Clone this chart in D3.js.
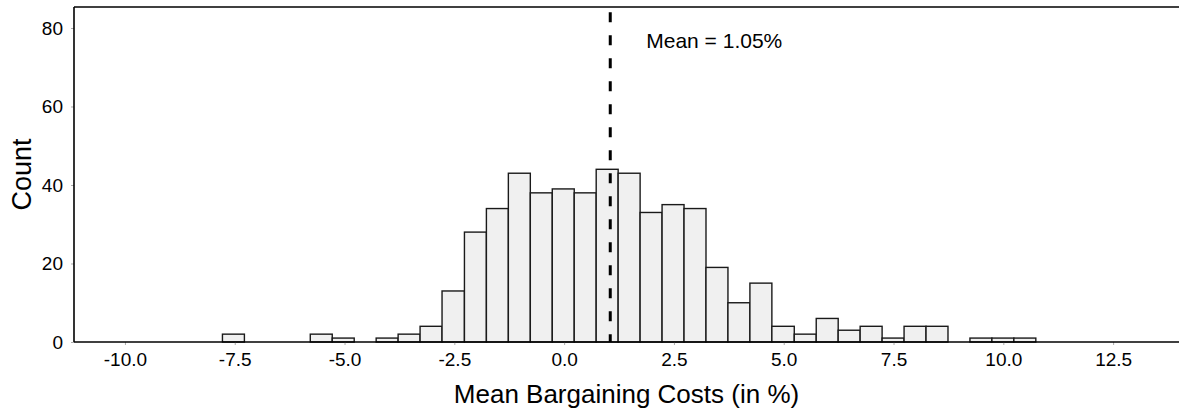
<!DOCTYPE html>
<html>
<head>
<meta charset="utf-8">
<script src="https://cdn.jsdelivr.net/npm/d3@7"></script>
<style>
  html, body { margin: 0; padding: 0; background: #fff; }
  svg { display: block; }
  text { font-family: "Liberation Sans", Arial, sans-serif; fill: #000; }
</style>
</head>
<body>
<svg id="chart" width="1179" height="413"></svg>
<script>
// Histogram bin edges (percent) and counts per bin
const binEdges = [-7.78, -7.28, -6.78, -6.28, -5.78, -5.28, -4.78, -4.28, -3.78, -3.28,
  -2.78, -2.27, -1.77, -1.27, -0.77, -0.27, 0.23, 0.73, 1.23, 1.73,
  2.23, 2.73, 3.23, 3.73, 4.23, 4.73, 5.24, 5.74, 6.24, 6.74,
  7.24, 7.74, 8.24, 8.74, 9.24, 9.74, 10.24, 10.74];
const binCounts = [2, 0, 0, 0, 2, 1, 0, 1, 2, 4,
  13, 28, 34, 43, 38, 39, 38, 44, 43, 33,
  35, 34, 19, 10, 15, 4, 2, 6, 3, 4,
  1, 4, 4, 0, 1, 1, 1];
const meanValue = 1.05;
const xTicks = [-10.0, -7.5, -5.0, -2.5, 0.0, 2.5, 5.0, 7.5, 10.0, 12.5];
const yTicks = [0, 20, 40, 60, 80];

const bins = binCounts.map((c, i) => ({ x0: binEdges[i], x1: binEdges[i + 1], count: c }));

const svg = d3.select("#chart");
const plotLeft = 74, plotRight = 1179, plotTop = 7, plotBottom = 342;

const x = d3.scaleLinear().domain([-11.16, 14.0]).range([plotLeft, plotRight]);
const y = d3.scaleLinear().domain([0, 85.35]).range([plotBottom, plotTop]);

// tick labels with a plain hyphen for negatives
const fmtX = d => d.toFixed(1);

// bars
svg.append("g")
  .selectAll("rect")
  .data(bins.filter(d => d.count > 0))
  .join("rect")
  .attr("x", d => x(d.x0))
  .attr("width", d => x(d.x1) - x(d.x0))
  .attr("y", d => y(d.count))
  .attr("height", d => y(0) - y(d.count))
  .attr("fill", "#f0f0f0")
  .attr("stroke", "#1a1a1a")
  .attr("stroke-width", 1.4);

// x axis
const xAxis = svg.append("g")
  .attr("transform", `translate(0,${plotBottom})`)
  .call(d3.axisBottom(x).tickValues(xTicks).tickFormat(fmtX).tickSize(3).tickPadding(8));
xAxis.select(".domain").remove();
xAxis.selectAll(".tick line").attr("stroke", "#aaa");
xAxis.selectAll(".tick text").attr("font-size", 19).style("font-family", "'Liberation Sans', Arial, sans-serif");

// y axis
const yAxis = svg.append("g")
  .attr("transform", `translate(${plotLeft},0)`)
  .call(d3.axisLeft(y).tickValues(yTicks).tickFormat(d => String(d)).tickSize(3).tickPadding(8));
yAxis.select(".domain").remove();
yAxis.selectAll(".tick line").attr("stroke", "#aaa");
yAxis.selectAll(".tick text").attr("font-size", 19).style("font-family", "'Liberation Sans', Arial, sans-serif");

// frame: left, top and bottom spines
const frame = svg.append("g").attr("stroke", "#000").attr("stroke-width", 1.6).attr("fill", "none");
frame.append("line").attr("x1", plotLeft).attr("x2", plotLeft).attr("y1", plotTop).attr("y2", plotBottom);
frame.append("line").attr("x1", plotLeft).attr("x2", plotRight).attr("y1", plotTop).attr("y2", plotTop);
frame.append("line").attr("x1", plotLeft).attr("x2", plotRight).attr("y1", plotBottom).attr("y2", plotBottom);

// mean marker
svg.append("line")
  .attr("x1", x(meanValue)).attr("x2", x(meanValue))
  .attr("y1", y(84)).attr("y2", y(0))
  .attr("stroke", "#000")
  .attr("stroke-width", 3)
  .attr("stroke-dasharray", "10,13");

svg.append("text")
  .attr("x", x(meanValue) + 36)
  .attr("y", 48)
  .attr("font-size", 21)
  .text(`Mean = ${meanValue.toFixed(2)}%`);

// axis titles
svg.append("text")
  .attr("x", (plotLeft + plotRight) / 2)
  .attr("y", 403)
  .attr("text-anchor", "middle")
  .attr("font-size", 26)
  .text("Mean Bargaining Costs (in %)");

svg.append("text")
  .attr("transform", `translate(31,${(plotTop + plotBottom) / 2}) rotate(-90)`)
  .attr("text-anchor", "middle")
  .attr("font-size", 27)
  .text("Count");
</script>
</body>
</html>
